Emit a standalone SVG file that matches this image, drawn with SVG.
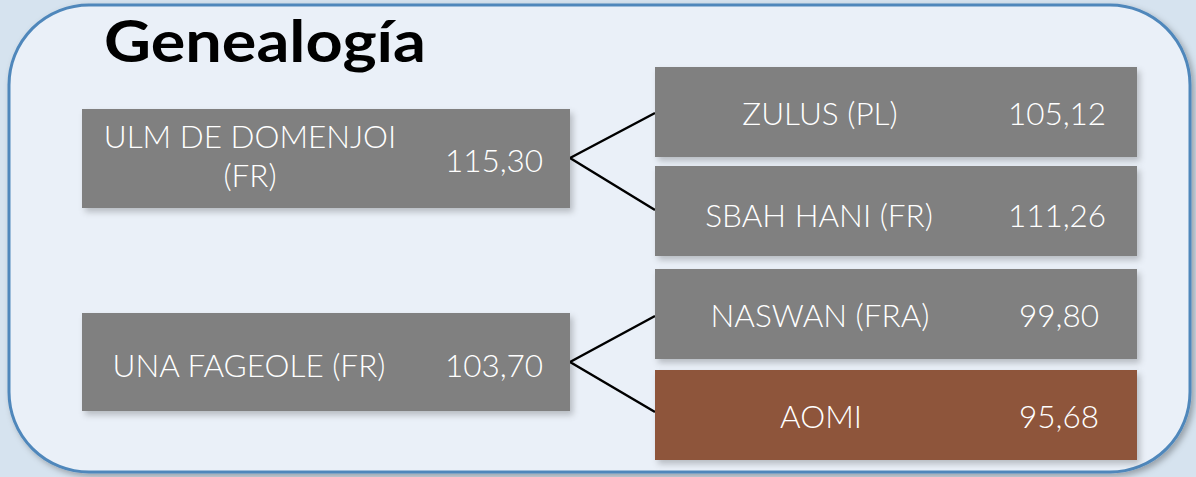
<svg xmlns="http://www.w3.org/2000/svg" width="1196" height="477" viewBox="0 0 1196 477">
<defs>
<filter id="sh" x="-10%" y="-10%" width="125%" height="135%">
<feDropShadow dx="3" dy="4" stdDeviation="3" flood-color="#000" flood-opacity="0.22"/>
</filter>
<filter id="psh" x="-5%" y="-5%" width="110%" height="115%">
<feDropShadow dx="3" dy="3" stdDeviation="3" flood-color="#000" flood-opacity="0.3"/>
</filter>
</defs>
<style>
.box{fill:#808080;filter:url(#sh)}
.brown{fill:#8e553a;filter:url(#sh)}
.t{font-family:Lato,"Open Sans",sans-serif;font-weight:300;font-size:31.5px;fill:#ffffff}
.c{stroke:#000;stroke-width:2.5;fill:none}
.title{font-family:Lato,"Open Sans",sans-serif;font-weight:bold;font-size:57px;fill:#000}
</style>
<rect x="0" y="0" width="1196" height="477" fill="#d6e3ef"/>
<rect x="9" y="5" width="1181" height="467" rx="80" ry="80" fill="#eaf0f8" stroke="#4f87bb" stroke-width="3" filter="url(#psh)"/>
<text class="title" x="104" y="62" textLength="322" lengthAdjust="spacingAndGlyphs">Genealogía</text>
<g id="connectors">
<path class="c" d="M570,158 L655,113 M570,158 L655,210"/>
<path class="c" d="M570,362 L655,316 M570,362 L655,412"/>
</g>
<g id="ulm">
<rect class="box" x="82" y="109" width="488" height="99"/>
<text class="t" x="250" y="148" text-anchor="middle">ULM DE DOMENJOI</text>
<text class="t" x="250" y="187" text-anchor="middle">(FR)</text>
<text class="t" x="494" y="172" text-anchor="middle">115,30</text>
</g>
<g id="una">
<rect class="box" x="82" y="313" width="488" height="98"/>
<text class="t" x="249" y="377" text-anchor="middle">UNA FAGEOLE (FR)</text>
<text class="t" x="494" y="377" text-anchor="middle">103,70</text>
</g>
<g id="zulus">
<rect class="box" x="655" y="67" width="482" height="90"/>
<text class="t" x="820" y="125" text-anchor="middle">ZULUS (PL)</text>
<text class="t" x="1057" y="125" text-anchor="middle">105,12</text>
</g>
<g id="sbah">
<rect class="box" x="655" y="166" width="482" height="90"/>
<text class="t" x="819" y="227" text-anchor="middle">SBAH HANI (FR)</text>
<text class="t" x="1057" y="227" text-anchor="middle">111,26</text>
</g>
<g id="naswan">
<rect class="box" x="655" y="269" width="482" height="90"/>
<text class="t" x="820" y="327" text-anchor="middle">NASWAN (FRA)</text>
<text class="t" x="1059" y="327" text-anchor="middle">99,80</text>
</g>
<g id="aomi">
<rect class="brown" x="655" y="370" width="482" height="90"/>
<text class="t" x="821" y="428" text-anchor="middle">AOMI</text>
<text class="t" x="1059" y="428" text-anchor="middle">95,68</text>
</g>
</svg>
